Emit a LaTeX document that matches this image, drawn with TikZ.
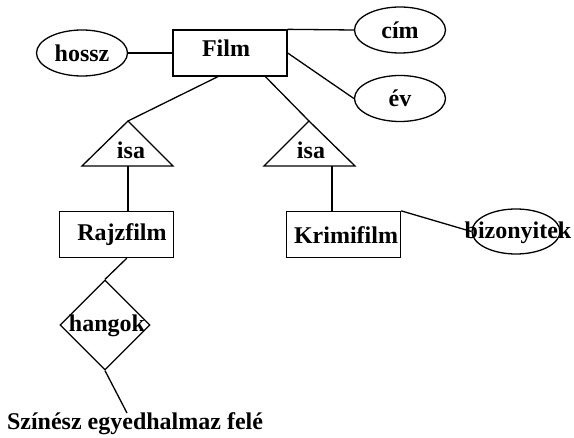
\documentclass[tikz,border=0pt]{standalone}
\usepackage{fontspec}
\setmainfont{Liberation Serif}
\usetikzlibrary{shapes.geometric,calc}
\begin{document}
\begin{tikzpicture}[x=1pt,y=-1pt,line width=1.3pt,
  every node/.style={font=\fontsize{24}{28}\selectfont\bfseries,inner sep=0pt},
  ent/.style={draw,rectangle,minimum width=114pt,minimum height=46pt},
  attr/.style={draw,ellipse,minimum width=91pt,minimum height=46pt},
  rel/.style={draw,diamond,minimum width=90pt,minimum height=90pt},
  isatri/.style={draw,line join=miter}]
\useasboundingbox (0,0) rectangle (574,438);
% entities
\node[ent] (film) at (230,53) {};
\node (filmT) at (226,48) {Film};
\node[ent] (raj) at (116.5,234.5) {};
\node (rajT) at (122,235) {Rajzfilm};
\node[ent] (krimi) at (343.5,234.5) {};
\node (krimiT) at (346,235) {Krimifilm};
% attributes
\node[attr] (hossz) at (82,53) {hossz};
\node[attr] (cim) at (400,30) {cím};
\node[attr] (ev) at (400,98.5) {év};
\node[attr,minimum width=88pt,minimum height=45pt] (biz) at (516,231.5) {};
\node (bizT) at (518,233) {bizonyitek};
% isa triangles
\coordinate (isa1) at (128,121);
\coordinate (isa1b) at (128,166);
\draw[isatri] (isa1) -- (82,166) -- (173,166) -- cycle;
\node (isa1T) at (131,150) {isa};
\coordinate (isa2) at (309,121);
\coordinate (isa2b) at (332,166);
\draw[isatri] (isa2) -- (264,166) -- (355,166) -- cycle;
\node (isa2T) at (311,150) {isa};
% relationship
\node[rel] (hang) at (105,325) {};
\node (hangT) at (107,326) {hangok};
\node (szin) at (135,424) {Színész egyedhalmaz felé};
\coordinate (szinTop) at (127,413);
% connectors
\draw (hossz.east) -- (film.west);
\draw (film.north east) -- (cim.west);
\draw (film.east) -- (ev.west);
\draw ($(film.south west)!0.395!(film.south east)$) -- (isa1);
\draw ($(film.south west)!0.807!(film.south east)$) -- (isa2);
\draw (isa1b) -- (isa1b |- raj.north);
\draw (isa2b) -- (isa2b |- krimi.north);
\draw (krimi.north east) -- (biz.west);
\draw ($(raj.south west)!0.59!(raj.south east)$) -- (hang.north);
\draw (hang.south) -- (szinTop);
\end{tikzpicture}
\end{document}
